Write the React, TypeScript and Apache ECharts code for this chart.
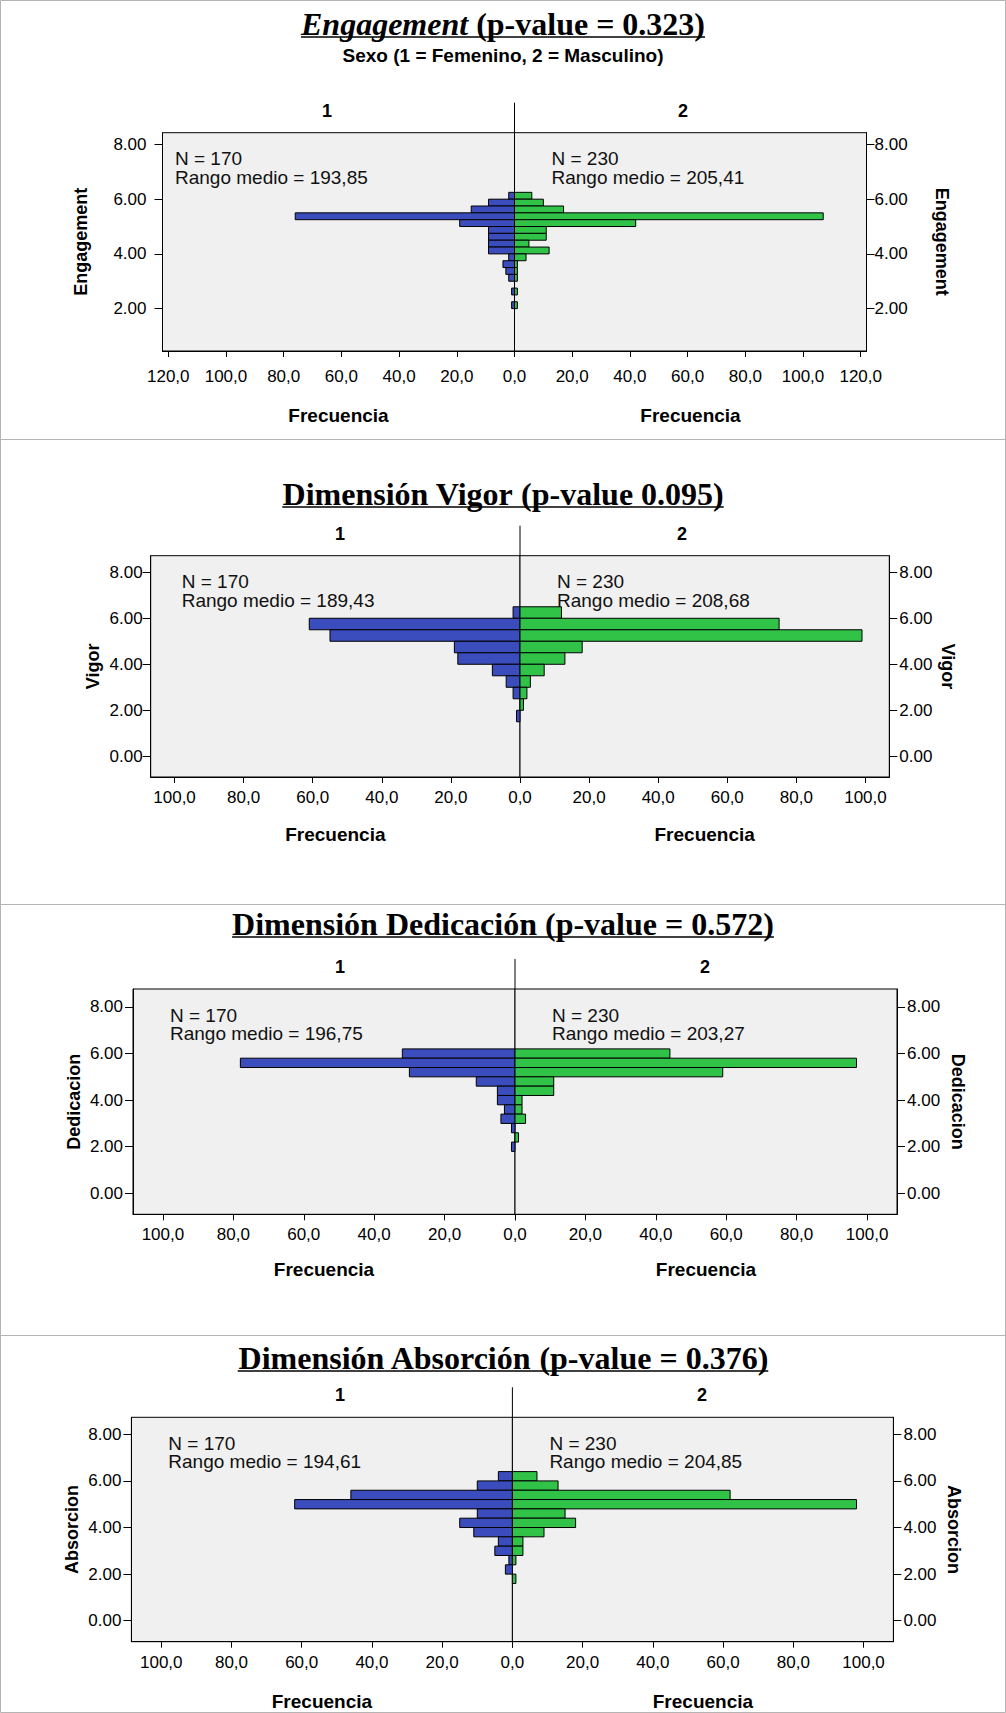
import React, { useEffect, useRef } from "react";
import * as echarts from "echarts";

const W = 1006;
const H = 1713;

// ---------------- DATA ----------------
const groups = ["1", "2"];
const nFem = 170;
const nMas = 230;

const titleMain = ["Engagement", "Dimensión Vigor", "Dimensión Dedicación", "Dimensión Absorción"];
const titleRest = [" (p-value = 0.323)", " (p-value 0.095)", " (p-value = 0.572)", " (p-value = 0.376)"];
const titleItalic = [true, false, false, false];
const subtitle = "Sexo (1 = Femenino, 2 = Masculino)";
const varNames = ["Engagement", "Vigor", "Dedicacion", "Absorcion"];
const rangoFem = ["193,85", "189,43", "196,75", "194,61"];
const rangoMas = ["205,41", "208,68", "203,27", "204,85"];

// bins: lower edge of each bin (score), counts for group 1 (Femenino) and group 2 (Masculino)
const engBins = [6.0, 5.75, 5.5, 5.25, 5.0, 4.75, 4.5, 4.25, 4.0, 3.75, 3.5, 3.25, 3.0, 2.75, 2.5, 2.25, 2.0];
const engFem = [2, 9, 15, 76, 19, 9, 9, 9, 9, 2, 4, 3, 2, 0, 1, 0, 1];
const engMas = [6, 10, 17, 107, 42, 11, 11, 5, 12, 4, 1, 1, 1, 0, 1, 0, 1];
const engWidth = 0.25;

const vigBins = [6.0, 5.5, 5.0, 4.5, 4.0, 3.5, 3.0, 2.5, 2.0, 1.5];
const vigFem = [2, 61, 55, 19, 18, 8, 4, 2, 0, 1];
const vigMas = [12, 75, 99, 18, 13, 7, 3, 2, 1, 0];
const vigWidth = 0.5;

const dedBins = [5.8, 5.4, 5.0, 4.6, 4.2, 3.8, 3.4, 3.0, 2.6, 2.2, 1.8];
const dedFem = [32, 78, 30, 11, 5, 5, 3, 4, 1, 0, 1];
const dedMas = [44, 97, 59, 11, 11, 2, 2, 3, 0, 1, 0];
const dedWidth = 0.4;

const absBins = [6.0, 5.6, 5.2, 4.8, 4.4, 4.0, 3.6, 3.2, 2.8, 2.4, 2.0, 1.6];
const absFem = [4, 10, 46, 62, 10, 15, 11, 4, 5, 1, 2, 0];
const absMas = [7, 13, 62, 98, 15, 18, 9, 3, 3, 1, 0, 1];
const absWidth = 0.4;

const xTicksEng = [0, 20, 40, 60, 80, 100, 120];
const xTicksDim = [0, 20, 40, 60, 80, 100];
const yTicksEng = [2, 4, 6, 8];
const yTicksDim = [0, 2, 4, 6, 8];

const panelData = [
  { bins: engBins, fem: engFem, mas: engMas, width: engWidth, xTicks: xTicksEng, yTicks: yTicksEng },
  { bins: vigBins, fem: vigFem, mas: vigMas, width: vigWidth, xTicks: xTicksDim, yTicks: yTicksDim },
  { bins: dedBins, fem: dedFem, mas: dedMas, width: dedWidth, xTicks: xTicksDim, yTicks: yTicksDim },
  { bins: absBins, fem: absFem, mas: absMas, width: absWidth, xTicks: xTicksDim, yTicks: yTicksDim },
];

// ---------------- LAYOUT ----------------
const layout = [
  { cx: 514.5, half: 352, top: 132.7, bottom: 351, xMax: 122, yMin: 0.45, yMax: 8.43, titleY: 24, nLeftX: 175, freqGap: 55, xLabMargin: 17, yGapL: 73, yGapR: 66, yLabMarginL: 16, yLabMarginR: 8, headX: [327, 683] },
  { cx: 520, half: 369.3, top: 555.7, bottom: 777, xMax: 106.9, yMin: -0.9, yMax: 8.72, titleY: 494, nLeftX: 181.7, freqGap: 48, xLabMargin: 12, yGapL: 49, yGapR: 50, yLabMarginL: 8, yLabMarginR: 10, headX: [340, 682] },
  { cx: 515, half: 382, top: 989, bottom: 1214.3, xMax: 108.5, yMin: -0.9, yMax: 8.77, titleY: 924, nLeftX: 170, freqGap: 46, xLabMargin: 12, yGapL: 50, yGapR: 52, yLabMarginL: 10, yLabMarginR: 10, headX: [340, 705] },
  { cx: 512.4, half: 381, top: 1417.3, bottom: 1641.7, xMax: 108.5, yMin: -0.9, yMax: 8.73, titleY: 1358, nLeftX: 168.3, freqGap: 50, xLabMargin: 12, yGapL: 50, yGapR: 52, yLabMarginL: 10, yLabMarginR: 10, headX: [340, 702] },
];
const rowLines = [439, 904, 1335];

const SANS = "'Liberation Sans', Arial, sans-serif";
const SERIF = "'Liberation Serif', 'Times New Roman', serif";
const BLUE = "#3b4cbc";
const GREEN = "#31c348";

function measure(text: string, font: string): number {
  const c = document.createElement("canvas").getContext("2d");
  if (!c) return text.length * 14;
  c.font = font;
  return c.measureText(text).width;
}

function buildOption() {
  const grid: any[] = [];
  const xAxis: any[] = [];
  const yAxis: any[] = [];
  const series: any[] = [];
  const g: any[] = [];

  g.push({ type: "rect", silent: true, shape: { x: 0.5, y: 0.5, width: W - 1, height: H - 1 }, style: { fill: "none", stroke: "#b4b4b4", lineWidth: 1 } });
  rowLines.forEach((y) => g.push({ type: "line", silent: true, shape: { x1: 0, y1: y + 0.5, x2: W, y2: y + 0.5 }, style: { stroke: "#b4b4b4", lineWidth: 1 } }));

  const renderBar = (color: string) => (params: any, api: any) => {
    const a = api.coord([0, api.value(0)]);
    const b = api.coord([api.value(2), api.value(1)]);
    return {
      type: "rect",
      shape: { x: Math.min(a[0], b[0]), y: Math.min(a[1], b[1]), width: Math.abs(b[0] - a[0]), height: Math.abs(b[1] - a[1]) },
      style: { fill: color, stroke: "#000", lineWidth: 1 },
    };
  };

  const xFmt = (v: number) => v.toFixed(1).replace(".", ",");
  const yFmt = (v: number) => v.toFixed(2);

  layout.forEach((L, p) => {
    const D = panelData[p];
    const h = L.bottom - L.top;
    for (let side = 0; side < 2; side++) {
      const k = p * 2 + side;
      const left = side === 0 ? L.cx - L.half : L.cx;
      grid.push({ left, top: L.top, width: L.half, height: h, show: true, backgroundColor: "#f0f0f0", borderColor: "#000", borderWidth: 1, containLabel: false });
      xAxis.push({
        type: "value", gridIndex: k, min: 0, max: L.xMax, inverse: side === 0, position: "bottom",
        axisLine: { show: true, onZero: false, lineStyle: { color: "#000", width: 1 } },
        axisTick: { show: true, length: 6, customValues: D.xTicks, lineStyle: { color: "#000" } },
        axisLabel: { customValues: side === 0 ? D.xTicks : D.xTicks.filter((v) => v !== 0), formatter: xFmt, fontSize: 17, color: "#000", margin: L.xLabMargin, fontFamily: SANS },
        splitLine: { show: false },
        name: "Frecuencia", nameLocation: "middle", nameGap: L.freqGap,
        nameTextStyle: { fontWeight: "bold", fontSize: 19, color: "#000", fontFamily: SANS },
      });
      yAxis.push({
        type: "value", gridIndex: k, min: L.yMin, max: L.yMax, position: side === 0 ? "left" : "right",
        axisLine: { show: true, onZero: false, lineStyle: { color: "#000", width: 1 } },
        axisTick: { show: true, length: 8, customValues: D.yTicks, lineStyle: { color: "#000" } },
        axisLabel: { customValues: D.yTicks, formatter: yFmt, fontSize: 17, color: "#000", margin: side === 0 ? L.yLabMarginL : L.yLabMarginR, fontFamily: SANS },
        splitLine: { show: false },
        name: varNames[p], nameLocation: "middle", nameGap: side === 0 ? L.yGapL : L.yGapR, nameRotate: side === 0 ? 90 : -90,
        nameTextStyle: { fontWeight: "bold", fontSize: 18, color: "#000", fontFamily: SANS },
      });
      const counts = side === 0 ? D.fem : D.mas;
      series.push({
        type: "custom", xAxisIndex: k, yAxisIndex: k,
        encode: { x: 2, y: [0, 1] },
        data: D.bins.map((b, i) => [b, b + D.width, counts[i]]).filter((d) => d[2] > 0),
        renderItem: renderBar(side === 0 ? BLUE : GREEN),
      });
      // group header
      g.push({ type: "text", silent: true, x: L.headX[side], y: L.top - 22, style: { text: groups[side], fontFamily: SANS, fontWeight: "bold", fontSize: 18, fill: "#000", align: "center", verticalAlign: "middle" } });
    }
    // center line above plot
    g.push({ type: "line", silent: true, shape: { x1: L.cx, y1: L.top - 30, x2: L.cx, y2: L.top }, style: { stroke: "#000", lineWidth: 1 } });
    // N / Rango texts
    const nStyle = { fontFamily: SANS, fontSize: 19, fill: "#111", align: "left", verticalAlign: "middle" };
    g.push({ type: "text", silent: true, z: 50, x: L.nLeftX, y: L.top + 26, style: { ...nStyle, text: `N = ${nFem}` } });
    g.push({ type: "text", silent: true, z: 50, x: L.nLeftX, y: L.top + 44.5, style: { ...nStyle, text: `Rango medio = ${rangoFem[p]}` } });
    g.push({ type: "text", silent: true, z: 50, x: L.cx + 37, y: L.top + 26, style: { ...nStyle, text: `N = ${nMas}` } });
    g.push({ type: "text", silent: true, z: 50, x: L.cx + 37, y: L.top + 44.5, style: { ...nStyle, text: `Rango medio = ${rangoMas[p]}` } });
    // Title
    const fs = 32;
    const wa = measure(titleMain[p], `${titleItalic[p] ? "italic " : ""}bold ${fs}px ${SERIF}`);
    const wb = measure(titleRest[p], `bold ${fs}px ${SERIF}`);
    const tw = wa + wb;
    const tx = W / 2;
    g.push({
      type: "text", silent: true, x: tx, y: L.titleY,
      style: {
        text: `{a|${titleMain[p]}}{b|${titleRest[p]}}`,
        rich: {
          a: { fontFamily: SERIF, fontSize: fs, fontWeight: "bold", fontStyle: titleItalic[p] ? "italic" : "normal", fill: "#000" },
          b: { fontFamily: SERIF, fontSize: fs, fontWeight: "bold", fill: "#000" },
        },
        align: "center", verticalAlign: "middle",
      },
    });
    g.push({ type: "line", silent: true, shape: { x1: tx - tw / 2, y1: L.titleY + 13, x2: tx + tw / 2, y2: L.titleY + 13 }, style: { stroke: "#000", lineWidth: 1.6 } });
    if (p === 0) {
      g.push({ type: "text", silent: true, x: tx, y: 55, style: { text: subtitle, fontFamily: SANS, fontWeight: "bold", fontSize: 19, fill: "#000", align: "center", verticalAlign: "middle" } });
    }
  });

  return {
    animation: false,
    backgroundColor: "#ffffff",
    grid, xAxis, yAxis, series,
    graphic: { elements: g },
  };
}

export default function App() {
  const ref = useRef<HTMLDivElement>(null);
  useEffect(() => {
    if (!ref.current) return;
    const chart = echarts.init(ref.current, undefined, { renderer: "svg", width: W, height: H });
    chart.setOption(buildOption() as any);
    return () => chart.dispose();
  }, []);
  return <div ref={ref} style={{ position: "absolute", left: 0, top: 0, width: W, height: H }} />;
}
